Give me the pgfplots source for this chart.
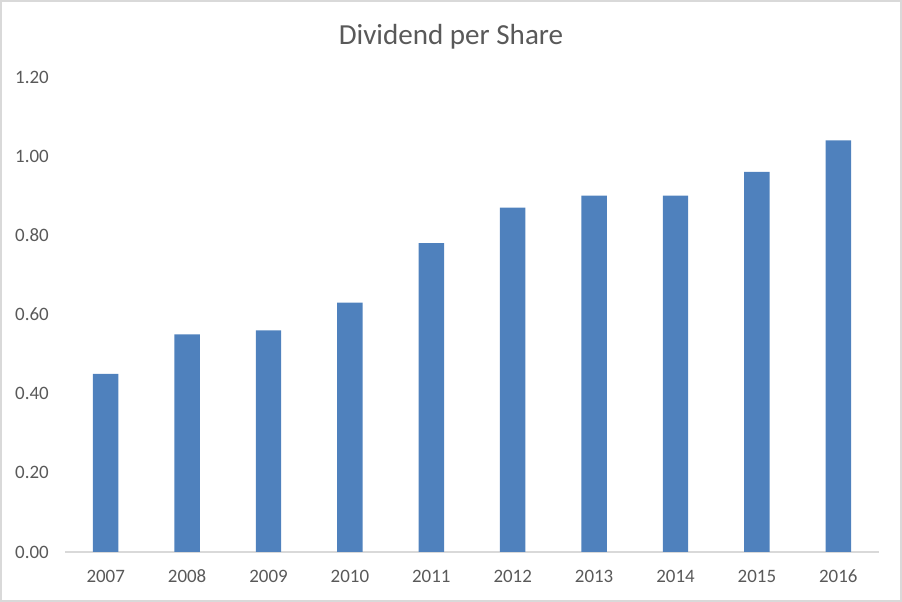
\documentclass[border=0pt]{standalone}
\usepackage{pgfplots}
\pgfplotsset{compat=1.18}
\usepackage{fontspec}
\setmainfont{Carlito}
\definecolor{barblue}{HTML}{4F81BD}
\definecolor{txtgray}{HTML}{595959}
\definecolor{linegray}{HTML}{D9D9D9}
\begin{document}
\begin{tikzpicture}[x=0.75pt,y=0.75pt]
\path[use as bounding box] (0,0) rectangle (902,602);
\draw[linegray, line width=1.5pt] (1,1) rectangle (901,601);
\node[anchor=base, text=txtgray, font=\fontsize{21.8}{26}\selectfont, inner sep=0pt] at (451,557) {Dividend per Share};
\begin{axis}[
  at={(48.75pt,37.5pt)}, anchor=south west,
  scale only axis,
  width=610.5pt, height=356.25pt,
  xmin=-0.5, xmax=9.5,
  ymin=0, ymax=1.2,
  ybar, bar width=19.1pt,
  axis lines*=left,
  x axis line style={draw=linegray, line width=0.9pt},
  y axis line style={draw=none},
  major tick length=0pt,
  xtick={0,1,2,3,4,5,6,7,8,9},
  xticklabels={2007,2008,2009,2010,2011,2012,2013,2014,2015,2016},
  ytick={0,0.2,0.4,0.6,0.8,1.0,1.2},
  yticklabel={\pgfmathprintnumber[fixed,fixed zerofill,precision=2]{\tick}},
  /pgf/number format/assume math mode=true,
  ticklabel style={text=txtgray, font=\fontsize{14.2}{17}\selectfont, inner sep=0pt},
  yticklabel style={anchor=east, xshift=-12pt},
  xticklabel style={anchor=base, yshift=-23.25pt},
  clip=false,
]
\addplot[fill=barblue, draw=none] coordinates {
  (0,0.45) (1,0.55) (2,0.56) (3,0.63) (4,0.78)
  (5,0.87) (6,0.90) (7,0.90) (8,0.96) (9,1.04)
};
\end{axis}
\end{tikzpicture}
\end{document}
